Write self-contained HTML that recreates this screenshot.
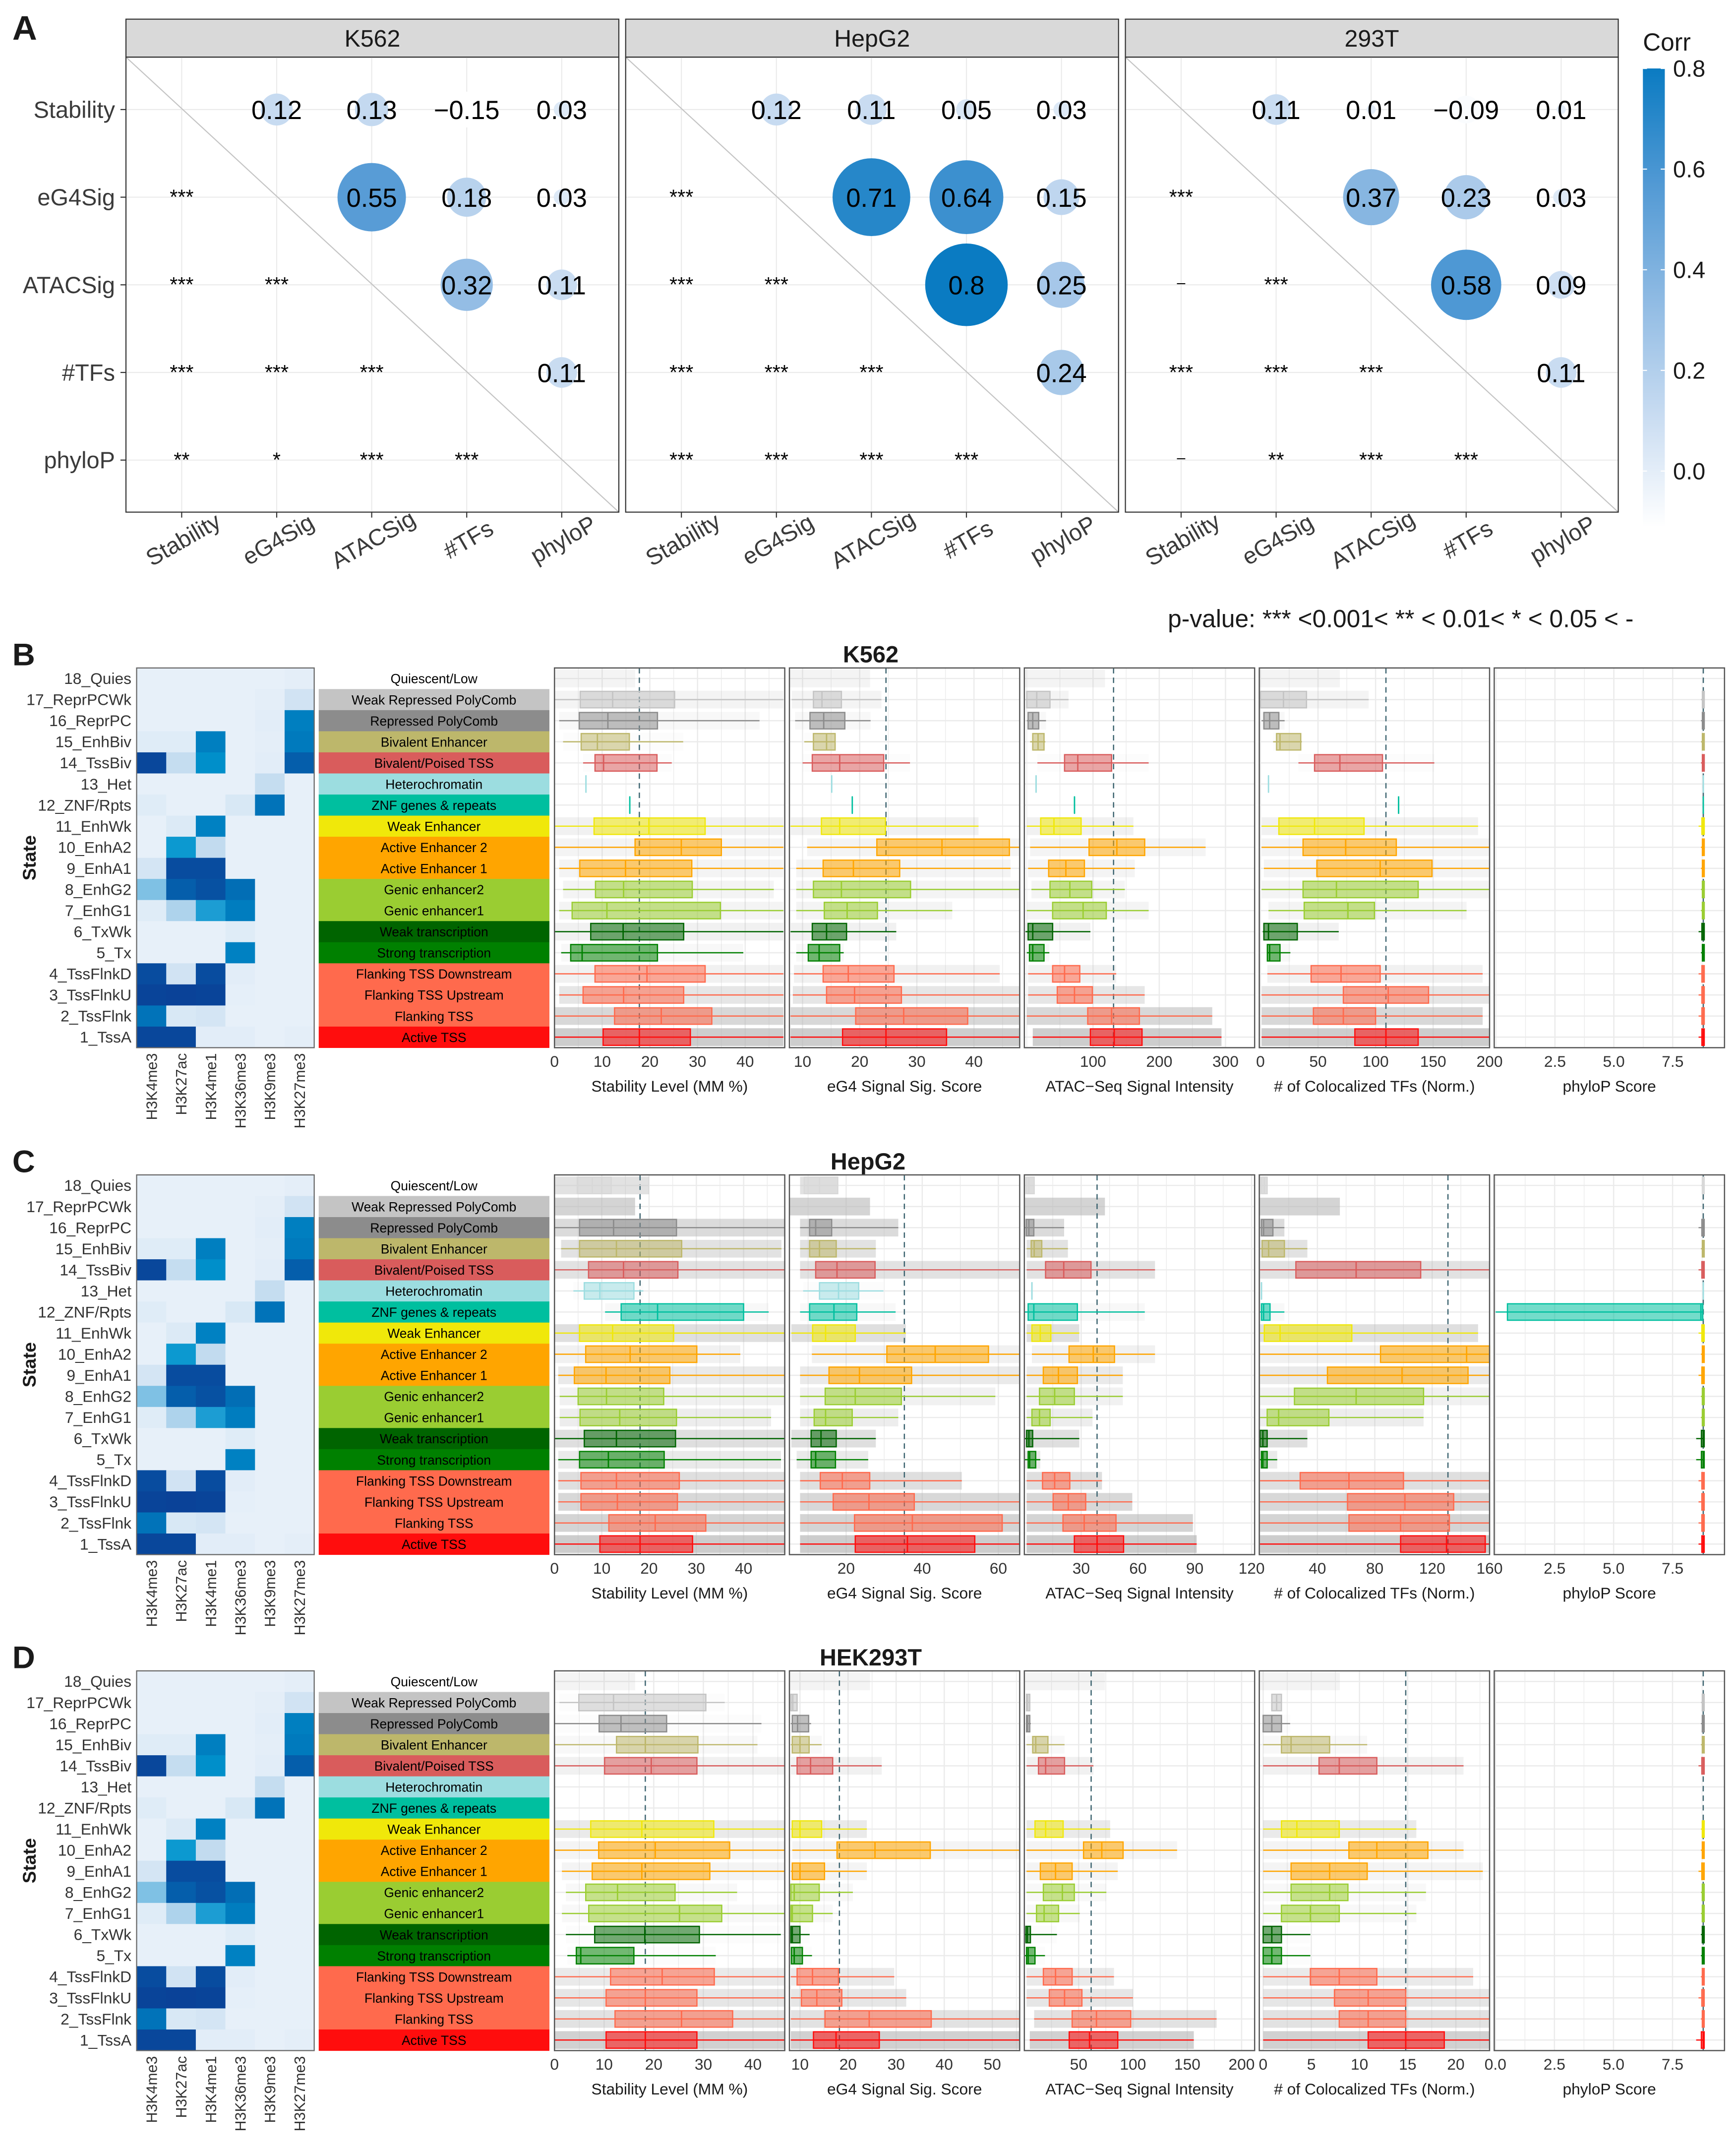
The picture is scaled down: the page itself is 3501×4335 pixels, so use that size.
<!DOCTYPE html>
<html><head><meta charset="utf-8"><title>Chromatin state figure</title>
<style>
html,body{margin:0;padding:0;background:#fff;}
svg{display:block;}
.n{font-family:"Liberation Sans Narrow","Liberation Sans",sans-serif;font-stretch:condensed;}
.s{font-family:"Liberation Sans",sans-serif;}
</style></head>
<body>
<svg id="fig" xmlns="http://www.w3.org/2000/svg" width="3501" height="4335" viewBox="0 0 1268 1570.1" preserveAspectRatio="none">
<rect x="0" y="0" width="1268" height="1570.1" fill="#fff"/>
</svg>
<script>
// ---------- Panel A data ----------
const corrVars = ["Stability","eG4Sig","ATACSig","#TFs","phyloP"];
const corrCells = ["K562","HepG2","293T"];
const k562Corr = [[1,0.12,0.13,-0.15,0.03],[0.12,1,0.55,0.18,0.03],[0.13,0.55,1,0.32,0.11],[-0.15,0.18,0.32,1,0.11],[0.03,0.03,0.11,0.11,1]];
const hepg2Corr = [[1,0.12,0.11,0.05,0.03],[0.12,1,0.71,0.64,0.15],[0.11,0.71,1,0.8,0.25],[0.05,0.64,0.8,1,0.24],[0.03,0.15,0.25,0.24,1]];
const t293Corr = [[1,0.11,0.01,-0.09,0.01],[0.11,1,0.37,0.23,0.03],[0.01,0.37,1,0.58,0.09],[-0.09,0.23,0.58,1,0.11],[0.01,0.03,0.09,0.11,1]];
const k562Sig = [[],["***"],["***","***"],["***","***","***"],["**","*","***","***"]];
const hepg2Sig = [[],["***"],["***","***"],["***","***","***"],["***","***","***","***"]];
const t293Sig = [[],["***"],["-","***"],["***","***","***"],["-","**","***","***"]];
const corrTicks = [0.0,0.2,0.4,0.6,0.8];

// ---------- Panels B-D data ----------
const stateNames = ["18_Quies","17_ReprPCWk","16_ReprPC","15_EnhBiv","14_TssBiv","13_Het","12_ZNF/Rpts","11_EnhWk","10_EnhA2","9_EnhA1","8_EnhG2","7_EnhG1","6_TxWk","5_Tx","4_TssFlnkD","3_TssFlnkU","2_TssFlnk","1_TssA"];
const stateLabels = ["Quiescent/Low","Weak Repressed PolyComb","Repressed PolyComb","Bivalent Enhancer","Bivalent/Poised TSS","Heterochromatin","ZNF genes & repeats","Weak Enhancer","Active Enhancer 2","Active Enhancer 1","Genic enhancer2","Genic enhancer1","Weak transcription","Strong transcription","Flanking TSS Downstream","Flanking TSS Upstream","Flanking TSS","Active TSS"];
const stateColors = ["#ffffff","#c4c4c4","#8c8c8c","#bdb76b","#d95c5c","#9cdde0","#00bf9f","#f0e80a","#ffa500","#ffa500","#9acd32","#9acd32","#006400","#008000","#ff6a4d","#ff6a4d","#ff6a4d","#ff0d0d"];
const markNames = ["H3K4me3","H3K27ac","H3K4me1","H3K36me3","H3K9me3","H3K27me3"];
const heatValues = [
 [0.05,0.05,0.05,0.05,0.05,0.07],
 [0.05,0.05,0.05,0.05,0.07,0.2],
 [0.05,0.05,0.05,0.05,0.08,0.75],
 [0.1,0.1,0.75,0.05,0.07,0.77],
 [0.97,0.28,0.68,0.05,0.08,0.88],
 [0.05,0.05,0.05,0.05,0.28,0.05],
 [0.1,0.05,0.05,0.15,0.8,0.05],
 [0.05,0.12,0.74,0.05,0.05,0.05],
 [0.05,0.62,0.3,0.05,0.05,0.05],
 [0.18,0.95,0.95,0.05,0.05,0.05],
 [0.4,0.88,0.93,0.82,0.05,0.05],
 [0.1,0.33,0.58,0.76,0.05,0.05],
 [0.05,0.05,0.05,0.1,0.05,0.05],
 [0.05,0.05,0.05,0.74,0.05,0.05],
 [0.95,0.2,0.95,0.08,0.05,0.05],
 [0.98,0.99,0.98,0.06,0.05,0.05],
 [0.8,0.15,0.18,0.05,0.05,0.05],
 [0.97,0.97,0.08,0.08,0.05,0.07]];
const panelTitles = ["Stability Level (MM %)","eG4 Signal Sig. Score","ATAC\u2212Seq Signal Intensity","# of Colocalized TFs (Norm.)","phyloP Score"];

// each box: [whiskerLow, q1, median, q3, whiskerHigh], states 18 -> 1
const k562Stability = [null,[0,5.4,12.2,25.2,48],[1,5.2,11.2,21.6,43],[1.8,5.6,9,15.7,27],[6,8.5,10.3,21.5,24.6],[6.6,6.6,6.6,6.6,6.6],[15.8,15.8,15.8,15.8,15.8],[0,8.3,19.8,31.6,48],[0,16.9,26.6,35,48],[1,5.3,14.9,28.8,48],[1.8,8.6,14.5,28.9,46],[1,3.7,11,34.8,48],[0,7.6,14.4,27.1,48],[1.4,3.4,5.8,21.6,39.6],[0,8.5,19.4,31.6,48],[1,6,14.5,27.1,48],[0,12.6,22.4,33,48],[0,10.2,17.8,28.5,48]];
const k562EG4 = [null,[8.1,11.9,13.4,16.8,23.8],[8.7,11.3,13.7,17.4,21.9],[10.3,11.9,14.2,15.7,15.7],[10,11.7,16.5,24.2,28.8],[15.1,15.1,15.1,15.1,15.1],[18.7,18.7,18.7,18.7,18.7],[7.9,13.3,16.5,24.5,40.8],[10.8,23,34.4,46.2,48],[8.9,13.6,18.9,27,46.4],[8.9,11.9,16.8,28.9,48],[8.9,13.8,17.8,23.1,36.2],[7.9,11.7,14.2,17.7,26.4],[8.9,11,12.9,16.5,17.2],[8.5,13.6,18,26,44.5],[8.3,14.2,19.1,27.3,48],[7.9,19.3,27.7,38.9,48],[7.9,17,24.6,35.2,48]];
const k562ATAC = [null,[-2,0,15,35,63],[0,2,9,18,29],[5,9,17,26,28],[16,57,77,128,184],[14,14,14,14,14],[72,72,72,72,72],[0,21,41,82,161],[5,94,136,178,270],[2,33,59,87,163],[7,35,65,98,148],[0,39,85,120,184],[-2,2,9,39,96],[0,4,9,26,34],[2,39,57,80,135],[2,46,72,99,178],[0,92,128,170,280],[9,96,132,174,294]];
const k562TFs = [null,[0,0,20,40,94],[1,3,8,16,21],[11,14,17,35,36],[33,47,69,106,151],[7,7,7,7,7],[120,120,120,120,120],[1,16,47,90,189],[1,37,74,118,199],[3,49,104,149,199],[1,37,66,137,199],[7,38,76,99,179],[2,3,7,32,68],[6,6,8,17,26],[6,44,70,104,193],[1,72,111,146,199],[1,46,72,100,193],[1,82,109,137,199]];
const k562PhyloP = [null,[8.7,8.76,8.8,8.84,8.86],[8.7,8.76,8.8,8.84,8.86],[8.7,8.76,8.8,8.84,8.86],[8.7,8.76,8.8,8.84,8.86],[8.8,8.8,8.8,8.8,8.8],[8.8,8.8,8.8,8.8,8.8],[8.6,8.74,8.8,8.84,8.86],[8.7,8.76,8.8,8.84,8.86],[8.7,8.76,8.8,8.84,8.86],[8.7,8.76,8.8,8.84,8.86],[8.7,8.76,8.8,8.84,8.86],[8.6,8.74,8.8,8.84,8.86],[8.7,8.76,8.8,8.84,8.86],[8.6,8.74,8.8,8.84,8.86],[8.6,8.74,8.8,8.84,8.86],[8.6,8.74,8.8,8.84,8.86],[8.6,8.74,8.8,8.84,8.86]];

const hepg2Stability = [[0,4.8,8,12,20],null,[0,5.3,12.5,25.8,48.7],[1.4,5.3,13.1,26.9,48],[0,7.2,14.6,26.1,48.7],[4,6.3,9.6,16.8,18.8],[10.7,14.1,21.8,40,45.3],[0,5.3,12.3,25.2,48.7],[0,6.6,16,30.1,39.3],[0.8,4.2,10.9,24.4,48.7],[1.1,5,11,23.1,48.7],[1.1,5.4,13.8,25.8,45.8],[0,6.3,13.1,25.6,48.7],[0.8,5.3,11.4,23.2,47.9],[0.8,5.6,13.1,26.4,48.7],[0.8,5.6,13.3,26,48.7],[0,11.5,21.3,32,48.7],[0,9.6,18.1,29.2,48.7]];
const hepg2EG4 = [[7.9,9,13,17.8,17.8],null,[7.9,10.4,12,16.2,33.7],[7.9,10.4,13,17.4,27.8],[7.9,12,17.6,27.6,65.6],[8.7,13,18,23.3,29.8],[7.9,10.4,16.8,22.8,33],[5.6,11.2,14.6,22.4,35.7],[11,30.7,43.4,57.4,65.6],[7.9,15.5,23.5,37.2,65.6],[7.9,14.5,22.4,34.5,59.2],[7.9,11.6,14.6,21.6,33.7],[5.6,10.8,13.4,17.4,27.8],[7,10.8,12,17.2,25.8],[7.9,13.2,19,26.2,50.4],[7.9,16.6,26,37.9,65.6],[7.9,22.2,37.4,61,65.6],[7.9,22.4,36.1,53.8,65.6]];
const hepg2ATAC = [[0,1.2,2.4,5.2,5.2],null,[0,1,2.4,5,21],[1.2,3.6,5.2,9.2,23],[1.2,11.2,20.8,35.2,69],[4,4,4,4,4],[0,2,5,28,63.6],[1.2,4,8.4,14,29],[4,23.6,36.4,47.6,69],[1.2,10,18,28,52],[1.2,8,16,26.4,52],[1.2,4,8,13.6,36],[0,1.2,2.4,4.4,29],[0,2,2.8,6,8.4],[1.2,9.6,16,24,41],[1.2,15.2,23.2,32.4,57],[1.2,20.4,31.6,48.4,89],[1.2,26.4,38.4,52.4,91]];
const hepg2TFs = [[0,1,3,5,5],null,[0,1,2.5,9,17],[0,1.5,6,17,33],[0,25,67,112,160],[1,1,1,1,1],[0,1,2.5,7,17],[0,3,14,64,152],[0,84,144,160,160],[0,47,99,145,160],[0,24,67,114,160],[0,5,13,48,114],[0,0,2,5,33],[0,1,2,5,12],[0,28,62,100,160],[0,61,101,135,160],[0,62,98,132,160],[0,98,130,157,160]];
const hepg2PhyloP = [[8.7,8.76,8.8,8.84,8.86],null,[8.6,8.74,8.8,8.84,8.86],[8.7,8.76,8.8,8.84,8.86],[8.6,8.74,8.8,8.84,8.86],[8.8,8.8,8.8,8.8,8.8],[0,0.5,8.7,8.78,8.8],[8.6,8.74,8.8,8.84,8.86],[8.7,8.76,8.8,8.84,8.86],[8.6,8.74,8.8,8.84,8.86],[8.7,8.76,8.8,8.84,8.86],[8.7,8.76,8.8,8.84,8.86],[8.5,8.72,8.8,8.84,8.86],[8.5,8.72,8.8,8.84,8.86],[8.6,8.74,8.8,8.84,8.86],[8.6,8.74,8.8,8.84,8.86],[8.6,8.74,8.8,8.84,8.86],[8.6,8.74,8.8,8.84,8.86]];

const hekStability = [null,[1,4.9,11.9,30.5,34.3],[0,9,13.4,22.6,41.7],[0,12.5,18.3,28.9,40.9],[0,10.1,19.5,28.7,46.4],null,null,[0,7.3,17.6,32.1,46.4],[0,8.9,20.3,35.3,46.4],[1.5,7.6,17.6,31.3,46.4],[2.3,6.3,12.7,24.3,36.8],[1.5,6.9,25.2,33.7,46.4],[2.3,8.1,18.2,29.2,45.6],[2.6,4.4,5.3,16,32.5],[0,11.3,21.7,32.2,46.4],[0,10.4,18.3,28.7,46.4],[0,12.2,25.6,35.9,46.4],[0,10.4,18.3,28.7,46.4]];
const hekEG4 = [null,[8.1,8.1,8.5,9.4,9.4],[8.1,8.4,9.5,11.8,12.3],[8.1,8.4,10,11.9,14.5],[8.1,9.4,12.2,16.8,27],null,null,[8.1,8.4,10,14.5,23.9],[8.4,17.7,25.6,37.1,55.7],[8.1,8.4,10,15.1,23.9],[8.1,8.1,8.8,14,21],[8.1,8.1,8.4,12.6,16.8],[8.1,8.1,8.4,10,12],[8.1,8.2,8.8,10.5,12.5],[8.1,9.4,12.6,18,29.6],[8.1,10.3,13.5,18.7,32.1],[8.1,15.2,24.4,37.3,55.7],[8.1,12.8,17.5,26.5,55.7]];
const hekATAC = [null,[2,2,3,5,5],[2,2,3,5,6],[2,7.7,10.5,21.7,37],[2,13,19.6,37,63.6],null,null,[2,9.8,19.6,35.7,79],[2,54.5,71.3,90.9,140.6],[2,14.7,28.7,44,86],[2,17.5,35,46,75.5],[2,11.2,18.2,31.5,51],[0,1.4,2.8,5.6,30],[0,2,3.5,9.8,19],[2,17.5,28.7,44,82.5],[2,23,37,53,100],[9,44,66.4,97.9,177],[5,41.3,60,86,156]];
const hekTFs = [null,[0.9,0.9,1.4,1.9,1.9],[0,0,0.9,1.9,2.8],[0,1.9,2.9,6.9,10.8],[0,5.8,7.9,11.8,20.8],null,null,[0,1.9,3.5,7.9,15.9],[0,8.9,11.8,17.1,20.8],[0,2.9,6.9,10.8,22.8],[0,2.9,6.9,8.8,16.9],[0,1.9,4.9,7.9,15.9],[0,0,0.9,1.9,4.9],[0,0,0.9,1.9,4.9],[0,4.9,7.9,11.8,21.8],[0,7.4,10.9,14.8,23.5],[0,7.9,10.9,14.8,23.5],[0,10.9,14.8,18.8,23.5]];
const hekPhyloP = [null,[8.7,8.76,8.8,8.84,8.86],[8.7,8.76,8.8,8.84,8.86],[8.7,8.76,8.8,8.84,8.86],[8.6,8.74,8.8,8.84,8.86],null,null,[8.7,8.76,8.8,8.84,8.86],[8.7,8.76,8.8,8.84,8.86],[8.6,8.74,8.8,8.84,8.86],[8.7,8.76,8.8,8.84,8.86],[8.7,8.76,8.8,8.84,8.86],[8.7,8.76,8.8,8.84,8.86],[8.7,8.76,8.8,8.84,8.86],[8.7,8.76,8.8,8.84,8.86],[8.6,8.74,8.8,8.84,8.86],[8.7,8.76,8.8,8.84,8.86],[8.5,8.72,8.8,8.84,8.86]];

const k562Means = [17.8,24.6,131,109,8.8];
const hepg2Means = [18.1,35.3,38.4,131,8.8];
const hekMeans = [18.3,18.2,61.5,14.8,8.8];
const k562Density = [0.15,0.15,0.1,0.05,0.05,0,0,0.2,0.15,0.15,0.15,0.15,0.2,0.1,0.2,0.35,0.55,0.7];
const hepg2Density = [0.4,0.6,0.5,0.4,0.4,0.05,0.1,0.45,0.2,0.3,0.2,0.25,0.45,0.3,0.45,0.55,0.6,0.7];
const hekDensity = [0.15,0.05,0.05,0.1,0.2,0,0,0.3,0.15,0.15,0.1,0.1,0.05,0.05,0.3,0.35,0.4,0.65];
const k562Ticks = [[0,10,20,30,40],[10,20,30,40],[100,200,300],[0,50,100,150,200],[2.5,5.0,7.5]];
const hepg2Ticks = [[0,10,20,30,40],[20,40,60],[30,60,90,120],[40,80,120,160],[2.5,5.0,7.5]];
const hekTicks = [[0,10,20,30,40],[10,20,30,40,50],[50,100,150,200],[0,5,10,15,20],[0.0,2.5,5.0,7.5]];

// ---------- helpers ----------
const NS = "http://www.w3.org/2000/svg";
const svg = document.getElementById("fig");
function mk(tag, attrs, parent){
  const el = document.createElementNS(NS, tag);
  for (const k in attrs) el.setAttribute(k, attrs[k]);
  (parent || svg).appendChild(el);
  return el;
}
function txt(str, attrs, parent){
  const el = mk("text", attrs, parent);
  el.textContent = str;
  return el;
}
function hex2rgb(h){ return [parseInt(h.substr(1,2),16),parseInt(h.substr(3,2),16),parseInt(h.substr(5,2),16)]; }
function lerpStops(stops, t){
  t = Math.max(0, Math.min(1, t));
  for (let i=1;i<stops.length;i++){
    if (t <= stops[i][0]){
      const a = stops[i-1], b = stops[i];
      const f = (t-a[0])/(b[0]-a[0]);
      const ca = hex2rgb(a[1]), cb = hex2rgb(b[1]);
      return "rgb(" + ca.map((c,k)=>Math.round(c+(cb[k]-c)*f)).join(",") + ")";
    }
  }
  return stops[stops.length-1][1];
}
const corrStops = [[0,"#ffffff"],[0.3,"#bcd4ee"],[0.7,"#5f9fd8"],[1,"#0a7bc2"]];
function corrColor(v){ return lerpStops(corrStops, (v+0.11)/0.91); }
const heatStops = [[0,"#eef4fb"],[0.3,"#c2dbef"],[0.5,"#3ca6d8"],[0.65,"#0096ce"],[0.78,"#0078bc"],[1,"#0a3f96"]];
function fmt(v){ return Number(v.toFixed(2)).toString().replace("-", "\u2212"); }

// ---------- Panel A ----------
const corrMats = [k562Corr, hepg2Corr, t293Corr];
const sigMats = [k562Sig, hepg2Sig, t293Sig];
const aTop = 41.7, aBot = 374, aW = 360;
const letterA = txt("A", {x:9, y:29, "font-size":25, "font-weight":"bold", class:"s", fill:"#1a1a1a"});


corrCells.forEach((cell, f) => {
  const left = 92 + f*365;
  const g = mk("g", {});
  
  
  const strip = mk("rect", {x:left, y:14, width:aW, height:aTop-14, fill:"#d9d9d9", stroke:"#333", "stroke-width":0.8}, g);
  
  
  const st = txt(cell, {x:left+aW/2, y:34, "font-size":17.5, "text-anchor":"middle", class:"s", fill:"#1a1a1a"}, g);
  
  
  const colX = j => left + 40.7 + 69.4*j;
  const rowY = i => 80 + 64*i;
  for (let j=0;j<5;j++){
    const gl = mk("line", {x1:colX(j), x2:colX(j), y1:aTop, y2:aBot, stroke:"#ebebeb", "stroke-width":0.8}, g);
    
    
    const gh = mk("line", {x1:left, x2:left+aW, y1:rowY(j), y2:rowY(j), stroke:"#ebebeb", "stroke-width":0.8}, g);
    
    
  }
  const diag = mk("line", {x1:left, y1:aTop, x2:left+aW, y2:aBot, stroke:"#c4c4c4", "stroke-width":0.8}, g);
  
  
  const frame = mk("rect", {x:left, y:aTop, width:aW, height:aBot-aTop, fill:"none", stroke:"#333", "stroke-width":0.8}, g);
  
  
  const M = corrMats[f], S = sigMats[f];
  for (let i=0;i<5;i++){
    for (let j=0;j<5;j++){
      if (j > i){
        const v = M[i][j];
        const c = mk("circle", {cx:colX(j), cy:rowY(i), r:33.7*Math.sqrt(Math.abs(v)), fill:corrColor(v)}, g);
        
        
        const t = txt(fmt(v), {x:colX(j), y:rowY(i)+7, "font-size":19, "text-anchor":"middle", class:"s", fill:"#000"}, g);
        
        
      } else if (j < i){
        const sg = S[i][j];
        const t = sg === "-" ? txt("\u2013", {x:colX(j), y:rowY(i)+2, "font-size":11, "text-anchor":"middle", class:"s", fill:"#000"}, g)
                             : txt(sg, {x:colX(j), y:rowY(i)+5, "font-size":15, "text-anchor":"middle", class:"s", fill:"#000"}, g);
        
        
      }
    }
    const tk = mk("line", {x1:colX(i), x2:colX(i), y1:aBot, y2:aBot+4, stroke:"#333", "stroke-width":0.8}, g);
    
    
    const cx = colX(i)+4, cy = 399;
    const xl = txt(corrVars[i], {x:cx, y:cy, "font-size":17, "text-anchor":"middle", class:"s", fill:"#3a3a3a", transform:"rotate(-30 "+cx+" "+cy+")"}, g);
    
    
    if (f === 0){
      const yt = mk("line", {x1:left-4, x2:left, y1:rowY(i), y2:rowY(i), stroke:"#333", "stroke-width":0.8}, g);
      
      
      const yl = txt(corrVars[i], {x:left-8, y:rowY(i)+6, "font-size":17, "text-anchor":"end", class:"s", fill:"#3a3a3a"}, g);
      
      
    }
  }
});
// colorbar
const defs = mk("defs", {});
const lg = mk("linearGradient", {id:"cbar", x1:"0", y1:"1", x2:"0", y2:"0"}, defs);
[0,0.25,0.5,0.75,1].forEach(t => { mk("stop", {offset:t, "stop-color":corrColor(-0.11+0.91*t)}, lg); });
const cb = mk("rect", {x:1200, y:50, width:16, height:335, fill:"url(#cbar)"});


const cbt = txt("Corr", {x:1200, y:37, "font-size":18, class:"s", fill:"#1a1a1a"});


corrTicks.forEach(v => {
  const y = 344 - (v/0.2)*73.5;
  const tl = mk("line", {x1:1200, x2:1203, y1:y, y2:y, stroke:"#fff", "stroke-width":0.8});
  
  
  const tr = mk("line", {x1:1213, x2:1216, y1:y, y2:y, stroke:"#fff", "stroke-width":0.8});
  
  
  const t = txt(v.toFixed(1), {x:1222, y:y+6, "font-size":17, class:"s", fill:"#1a1a1a"});
  
  
});
const pv = txt("p-value: *** <0.001< ** < 0.01< * < 0.05 < -", {x:853, y:458, "font-size":18, class:"s", fill:"#1a1a1a"});



// ---------- Panels B-D ----------
const sections = [
  {letter:"B", title:"K562", top:487.8, titleX:636, boxes:[k562Stability,k562EG4,k562ATAC,k562TFs,k562PhyloP], means:k562Means, density:k562Density, ticks:k562Ticks,
   dom:[[0,48.3],[7.7,48],[-3.7,344],[-1,199],[-0.08,9.7]]},
  {letter:"C", title:"HepG2", top:858, titleX:634, boxes:[hepg2Stability,hepg2EG4,hepg2ATAC,hepg2TFs,hepg2PhyloP], means:hepg2Means, density:hepg2Density, ticks:hepg2Ticks,
   dom:[[0,48.7],[5.1,65.6],[0,121.6],[-0.5,160],[-0.06,9.7]]},
  {letter:"D", title:"HEK293T", top:1220.2, titleX:636, boxes:[hekStability,hekEG4,hekATAC,hekTFs,hekPhyloP], means:hekMeans, density:hekDensity, ticks:hekTicks,
   dom:[[0,46.4],[7.8,55.7],[0,212],[-0.4,23.5],[-0.05,9.7]]}
];
const H = 277.3, rowH = H/18;
sections.forEach(sec => {
  const top = sec.top, bot = top + H;
  const yc = i => top + rowH*(i+0.5);
  const g = mk("g", {});
  
  
  const L = txt(sec.letter, {x:9, y:top-2, "font-size":23, "font-weight":"bold", class:"s", fill:"#1a1a1a"}, g);
  
  
  const T = txt(sec.title, {x:sec.titleX, y:top-4, "font-size":17, "font-weight":"bold", "text-anchor":"middle", class:"n", fill:"#1a1a1a"}, g);
  
  
  const sy = top + H/2;
  const st = txt("State", {x:26, y:sy, "font-size":13.5, "font-weight":"bold", "text-anchor":"middle", class:"s", fill:"#1a1a1a", transform:"rotate(-90 26 "+sy+")"}, g);
  
  
  // heatmap
  const hx0 = 99.8, hw = (229.5-99.8)/6;
  stateNames.forEach((nm, i) => {
    const lab = txt(nm, {x:96, y:yc(i)+4, "font-size":11.5, "text-anchor":"end", class:"n", fill:"#333"}, g);
    
    
    heatValues[i].forEach((v, j) => {
      const r = mk("rect", {x:hx0+hw*j, y:top+rowH*i, width:hw+0.3, height:rowH+0.3, fill:lerpStops(heatStops, v)}, g);
      
      
    });
    const bx = mk("rect", {x:232.8, y:top+rowH*i, width:168.5, height:rowH+0.2, fill:stateColors[i]}, g);
    
    
    const bt = txt(stateLabels[i], {x:317, y:yc(i)+3.5, "font-size":9.6, "text-anchor":"middle", class:"n", fill:"#000"}, g);
    
    
  });
  const hf = mk("rect", {x:hx0, y:top, width:229.5-hx0, height:H, fill:"none", stroke:"#666", "stroke-width":0.8}, g);
  
  
  markNames.forEach((m, j) => {
    const x = hx0 + hw*(j+0.5) + 4, y = bot + 4;
    const t = txt(m, {x:x, y:y, "font-size":11, "text-anchor":"end", class:"s", fill:"#333", transform:"rotate(-90 "+x+" "+y+")"}, g);
    
    
  });
  // box panels
  for (let p=0;p<5;p++){
    const x0 = 405 + p*171.6, w = 168.2;
    const d = sec.dom[p];
    const sx = v => x0 + (Math.max(d[0], Math.min(d[1], v)) - d[0])/(d[1]-d[0])*w;
    const pg = mk("g", {}, g);
    
    
    const tk = sec.ticks[p];
    const step = tk.length > 1 ? tk[1]-tk[0] : 1;
    for (let v = tk[0]-step*1.5; v <= d[1]; v += step/2){
      if (v < d[0]) continue;
      const major = tk.some(t => Math.abs(t - v) < 1e-6);
      const gl = mk("line", {x1:sx(v), x2:sx(v), y1:top, y2:bot, stroke:"#ebebeb", "stroke-width":major?0.9:0.5}, pg);
      
      
    }
    for (let i=0;i<18;i++){
      const gh = mk("line", {x1:x0, x2:x0+w, y1:yc(i), y2:yc(i), stroke:"#ebebeb", "stroke-width":0.9}, pg);
      
      
    }
    const data = sec.boxes[p];
    // point clouds
    if (p < 4){
      for (let i=0;i<18;i++){
        const dens = sec.density[i];
        if (!dens) continue;
        const b = data[i];
        const a = b ? sx(b[0]) : x0;
        const e = b ? sx(b[4]) : x0 + w*0.35;
        const pc = mk("rect", {x:a, y:yc(i)-rowH*0.42, width:Math.max(1, e-a), height:rowH*0.84, fill:"#b0b0b0", opacity:Math.min(0.75, dens*0.9)}, pg);
        
        
      }
    }
    const mx = sx(sec.means[p]);
    const ml = mk("line", {x1:mx, x2:mx, y1:top, y2:bot, stroke:"#3d6470", "stroke-width":0.9, "stroke-dasharray":"4,3"}, pg);
    
    
    for (let i=0;i<18;i++){
      const b = data[i];
      if (!b) continue;
      const col = stateColors[i] === "#ffffff" ? "#d8d8d8" : stateColors[i];
      const y = yc(i), bh = rowH*0.78;
      const wl = mk("line", {x1:sx(b[0]), x2:sx(b[4]), y1:y, y2:y, stroke:col, "stroke-width":0.9}, pg);
      
      
      const br = mk("rect", {x:sx(b[1]), y:y-bh/2, width:Math.max(0.01, sx(b[3])-sx(b[1])), height:bh, fill:col, "fill-opacity":0.55, stroke:col, "stroke-width":0.9}, pg);
      
      
      const md = mk("line", {x1:sx(b[2]), x2:sx(b[2]), y1:y-bh/2, y2:y+bh/2, stroke:col, "stroke-width":1}, pg);
      
      
    }
    const fr = mk("rect", {x:x0, y:top, width:w, height:H, fill:"none", stroke:"#555", "stroke-width":0.9}, pg);
    
    
    tk.forEach(v => {
      const lbl = (p === 4) ? v.toFixed(1) : String(v);
      const t = txt(lbl, {x:sx(v), y:bot+14, "font-size":11.5, "text-anchor":"middle", class:"n", fill:"#333"}, pg);
      
      
    });
    const at = txt(panelTitles[p], {x:x0+w/2, y:bot+32, "font-size":11.5, "text-anchor":"middle", class:"n", fill:"#1a1a1a"}, pg);
    
    
  }
});
</script>
</body></html>
